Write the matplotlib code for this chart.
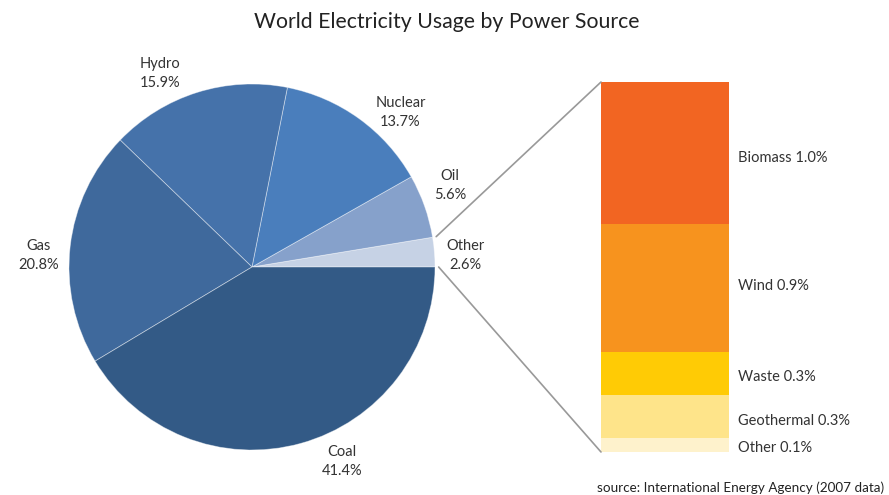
import numpy as np
import matplotlib
matplotlib.use('Agg')
import matplotlib.pyplot as plt
from matplotlib.patches import ConnectionPatch

plt.rcParams['font.family'] = ['Lato', 'DejaVu Sans']

# world electricity by source, percent
sources = ['Other', 'Oil', 'Nuclear', 'Hydro', 'Gas', 'Coal']
shares = [2.6, 5.6, 13.7, 15.9, 20.8, 41.4]
pie_colors = ['#c6d2e5', '#86a1cb', '#4a7ebc', '#4572aa', '#3f699c', '#335a86']

# breakdown of "Other"
other_parts = ['Biomass', 'Wind', 'Waste', 'Geothermal', 'Other']
other_shares = [1.0, 0.9, 0.3, 0.3, 0.1]
bar_colors = ['#f26522', '#f7931e', '#ffcb05', '#fee48a', '#fef2cc']

W, H = 889, 495
fig = plt.figure(figsize=(W / 100, H / 100), dpi=100)

# pie: center (252, 267) px, radius 183 px
cx, cy, r = 252, 267, 183
ax_pie = fig.add_axes([(cx - r) / W, (H - cy - r) / H, 2 * r / W, 2 * r / H])
wedges, _ = ax_pie.pie(shares, colors=pie_colors, startangle=0, counterclock=True,
                       wedgeprops=dict(edgecolor=(1, 1, 1, 0.45), linewidth=0.6))
ax_pie.set_xlim(-1, 1)
ax_pie.set_ylim(-1, 1)
ax_pie.set_aspect('equal')

label_angles = [3.2, 22.3, 46.1, 115.4, 176.8, 294.9]
for name, val, ang in zip(sources, shares, label_angles):
    a = np.radians(ang)
    ax_pie.text(1.17 * np.cos(a), 1.17 * np.sin(a), f'{name}\n{val}%',
                ha='center', va='center', fontsize=10.5, color='#333333',
                linespacing=1.45, clip_on=False)

# stacked bar for the "Other" slice
bx0, bx1, by0, by1 = 601, 729, 82, 452
ax_bar = fig.add_axes([bx0 / W, (H - by1) / H, (bx1 - bx0) / W, (by1 - by0) / H])
total = sum(other_shares)
label_nudge = [-0.035, 0.02, -0.02, -0.03, -0.02]
top = total
for name, val, col, dy in zip(other_parts, other_shares, bar_colors, label_nudge):
    ax_bar.bar(0, val, width=1, bottom=top - val, color=col, edgecolor='none')
    ax_bar.text(0.57, top - val / 2 + dy, f'{name} {val}%', ha='left', va='center',
                fontsize=10.5, color='#333333', clip_on=False)
    top -= val
ax_bar.set_xlim(-0.5, 0.5)
ax_bar.set_ylim(0, total)
ax_bar.axis('off')

# connector lines from the "Other" wedge edges to the bar
theta1, theta2 = wedges[0].theta1, wedges[0].theta2
for th, yb in [(theta2, total), (theta1, 0)]:
    a = np.radians(th)
    con = ConnectionPatch(xyA=(1.02 * np.cos(a), 1.02 * np.sin(a)), coordsA=ax_pie.transData,
                          xyB=(-0.5, yb), coordsB=ax_bar.transData,
                          color='#999999', linewidth=1.2)
    fig.add_artist(con)

fig.text(447 / W, 1 - 22 / H, 'World Electricity Usage by Power Source',
         ha='center', va='center', fontsize=15.3, color='#222222')
fig.text(884 / W, 1 - 488 / H, 'source: International Energy Agency (2007 data)',
         ha='right', va='center', fontsize=9.7, color='#222222')

fig.savefig('out.png', dpi=100)
